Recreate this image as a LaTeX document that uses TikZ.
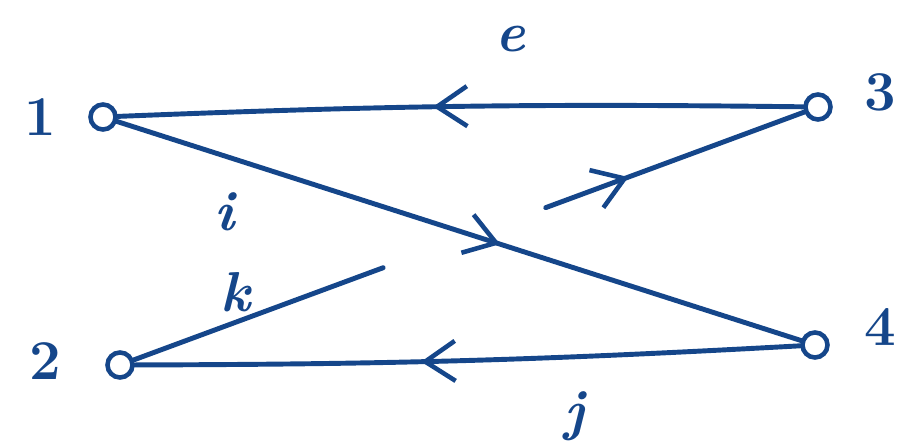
\documentclass[tikz,border=0pt]{standalone}
\usepackage{tikz}
\usetikzlibrary{arrows.meta, calc, decorations.markings}
\definecolor{inkblue}{HTML}{15468A}

\begin{document}
\begin{tikzpicture}[
    vertex/.style={circle, draw=inkblue, line width=2.6pt, minimum size=0.5cm, inner sep=0pt},
    vlabel/.style={text=inkblue, font=\bfseries\fontsize{32}{34}\selectfont},
    elabel/.style={text=inkblue, font=\bfseries\itshape\fontsize{32}{34}\selectfont},
    edge/.style={draw=inkblue, line width=2.8pt, line cap=round},
    midarr/.style={postaction={decorate}, decoration={markings,
        mark=at position #1 with {\arrow[inkblue, line width=2.6pt]{Straight Barb[length=6mm, width=8mm]}}}},
]
\useasboundingbox (0,0) rectangle (18.2,8.94);

\node[vertex] (n1) at (2.06,6.6) {};
\node[vertex] (n3) at (16.36,6.8) {};
\node[vertex] (n2) at (2.4,1.64) {};
\node[vertex] (n4) at (16.3,2.04) {};

\node[vlabel] (l1) at (0.8,6.6) {1};
\node[vlabel] (l3) at (17.6,7.1) {3};
\node[vlabel] (l2) at (0.9,1.72) {2};
\node[vlabel] (l4) at (17.6,2.4) {4};

% k passes under i
\coordinate (kcut1) at ($(n2)!0.377!(n3)$);
\coordinate (kcut2) at ($(n2)!0.61!(n3)$);

\draw[edge, midarr=0.54] (n3) to[bend right=1.5] (n1);
\draw[edge, midarr=0.56] (n1) -- (n4);
\draw[edge, midarr=0.57] (n4) to[bend left=1.5] (n2);
\draw[edge] (n2) -- (kcut1);
\draw[edge, midarr=0.32] (kcut2) -- (n3);

\node[elabel] (le) at (10.2,8.15) {e};
\node[elabel] (li) at (4.5,4.7) {i};
\node[elabel] (lk) at (4.7,3.1) {k};
\node[elabel] (lj) at (11.5,0.62) {j};
\end{tikzpicture}
\end{document}
